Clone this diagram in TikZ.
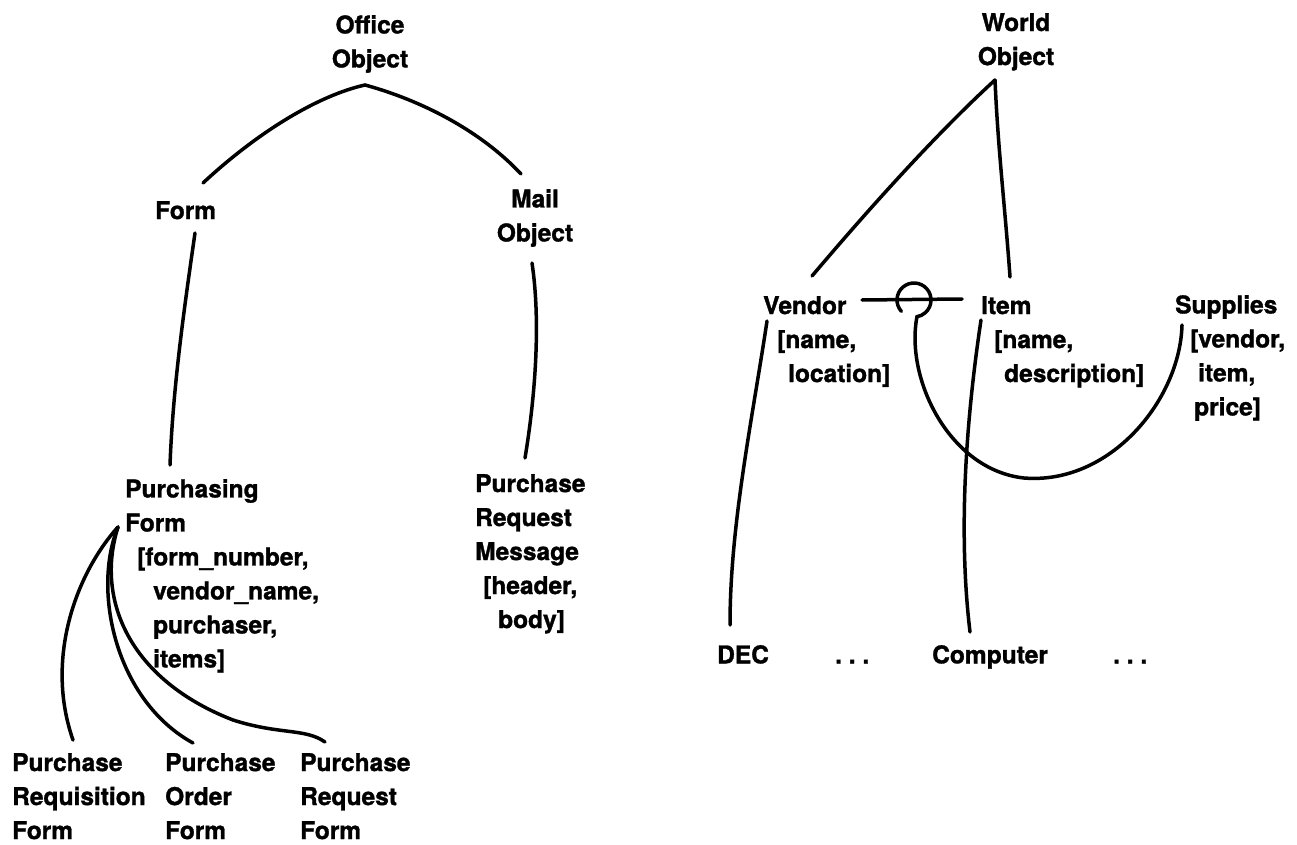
\documentclass[tikz,border=0pt]{standalone}
\usepackage{fontspec}
\setmainfont{TeX Gyre Heros}[BoldFeatures={FakeBold=1.3}]
\begin{document}
\begin{tikzpicture}[x=1pt,y=-1pt,
  lbl/.style={inner sep=0pt, align=left, font=\fontsize{24.5}{34}\selectfont\bfseries},
  lblc/.style={lbl, align=center},
  conn/.style={line width=3.5pt, line cap=round}]
\fill[white] (0,0) rectangle (1297,845);
\useasboundingbox (0,0) rectangle (1297,845);
% left tree
\node[lblc, anchor=north] (office) at (370,15) {Office\\Object};
\node[lbl, anchor=north west] (form) at (155,201) {Form};
\node[lblc, anchor=north] (mail) at (535,189) {Mail\\Object};
\node[lbl, anchor=north west] (purch) at (125,479) {Purchasing\\Form\\\hspace*{12pt}[form\_number,\\\hspace*{28pt}vendor\_name,\\\hspace*{28pt}purchaser,\\\hspace*{28pt}items]};
\node[lbl, anchor=north west] (prm) at (475,474) {Purchase\\Request\\Message\\\hspace*{8pt}[header,\\\hspace*{23pt}body]};
\node[lbl, anchor=north west] (prf1) at (12,753) {Purchase\\Requisition\\Form};
\node[lbl, anchor=north west] (pof) at (165,753) {Purchase\\Order\\Form};
\node[lbl, anchor=north west] (prqf) at (300,753) {Purchase\\Request\\Form};
% right tree
\node[lblc, anchor=north] (world) at (1016,13) {World\\Object};
\node[lbl, anchor=north west] (vendor) at (763,296) {Vendor\\\hspace*{14pt}[name,\\\hspace*{25pt}location]};
\node[lbl, anchor=north west] (item) at (981,296) {Item\\\hspace*{13pt}[name,\\\hspace*{23pt}description]};
\node[lbl, anchor=north west] (supplies) at (1175,295) {Supplies\\\hspace*{15pt}[vendor,\\\hspace*{23pt}item,\\\hspace*{19pt}price]};
\node[lbl, anchor=north west] (dec) at (717,645) {DEC};
\node[lbl, anchor=north west] (dots1) at (835,645) {\vphantom{C}.\ .\ .};
\node[lbl, anchor=north west] (computer) at (932,645) {Computer};
\node[lbl, anchor=north west] (dots2) at (1113,645) {\vphantom{C}.\ .\ .};
% connectors left
\draw[conn] ([shift={(48,-18)}]form.north west) .. controls +(57,-53) and +(-45,10) .. ([shift={(-5,70)}]office.north)
  .. controls +(55,15) and +(-41,-44) .. ([shift={(-14,-15)}]mail.north);
\draw[conn] ([shift={(40,32)}]form.north west) .. controls +(-10,70) and +(3,-80) .. ([shift={(45,-14)}]purch.north west);
\draw[conn] ([shift={(-3,74)}]mail.north) .. controls +(9,60) and +(10,-60) .. ([shift={(50,-16)}]prm.north west);
\draw[conn] ([shift={(-7,48)}]purch.north west) .. controls +(-43,48) and +(-28,-80) .. ([shift={(61,-13)}]prf1.north west);
\draw[conn] ([shift={(-7,48)}]purch.north west) .. controls +(-26,63) and +(-78,-43) .. ([shift={(28,-10)}]pof.north west);
\draw[conn] ([shift={(-7,48)}]purch.north west) .. controls +(-23,73) and +(-103,-40) .. ([shift={(-67,-33)}]prqf.north west)
  .. controls +(47,15) and +(-20,-14) .. ([shift={(25,-11)}]prqf.north west);
% connectors right
\draw[conn] ([shift={(-21,67)}]world.north) .. controls +(-60,55) and +(55,-65) .. ([shift={(49,-20)}]vendor.north west);
\draw[conn] ([shift={(-21,67)}]world.north) .. controls +(3,70) and +(-5,-70) .. ([shift={(29,-19)}]item.north west);
\draw[conn] ([shift={(99,4)}]vendor.north west) -- ([shift={(-19,3)}]item.north west);
\draw[conn] ([shift={(151,4)}]vendor.north west) ++(-222:17) arc[start angle=-222, end angle=80, radius=17]
  .. controls +(-12,63) and +(-74,-8) .. ([shift={(92,-167)}]computer.north west)
  .. controls +(86,7) and +(-2,75) .. ([shift={(7,30)}]supplies.north west);
\draw[conn] ([shift={(4,25)}]vendor.north west) .. controls +(-15,100) and +(0,-100) .. ([shift={(13,-20)}]dec.north west);
\draw[conn] ([shift={(0,24)}]item.north west) .. controls +(-15,100) and +(-12,-100) .. ([shift={(38,-13)}]computer.north west);
\end{tikzpicture}
\end{document}
